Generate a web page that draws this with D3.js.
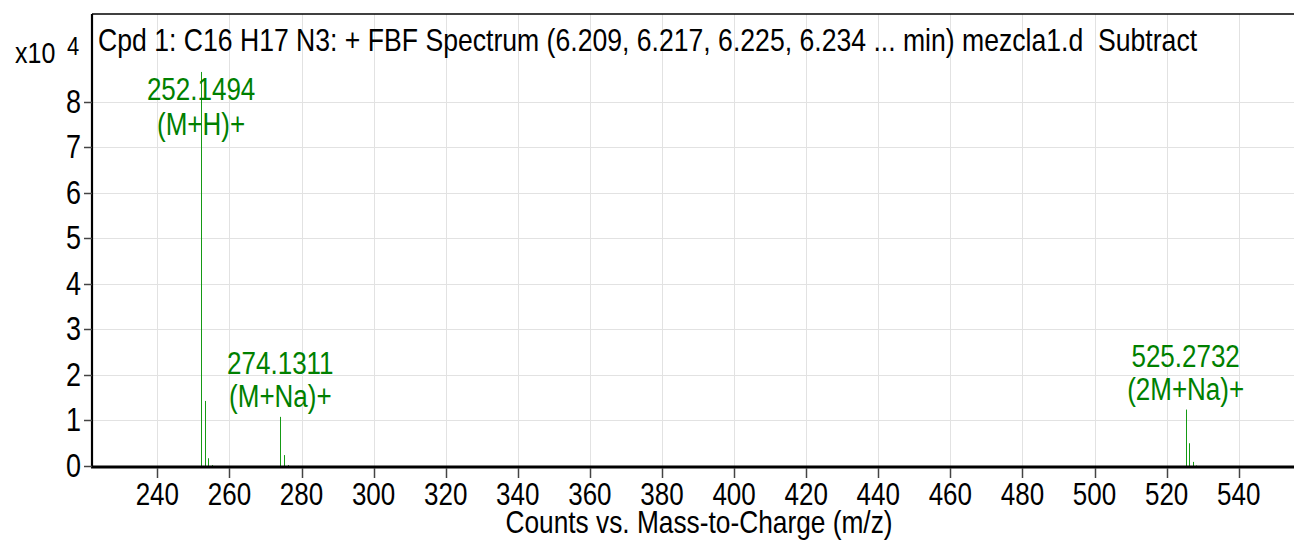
<!DOCTYPE html>
<html>
<head>
<meta charset="utf-8">
<script src="https://cdn.jsdelivr.net/npm/d3@7"></script>
<style>
  body { margin: 0; background: #fff; }
  text { font-family: "Liberation Sans", Arial, sans-serif; }
</style>
</head>
<body>
<svg id="chart" width="1294" height="540"></svg>
<script>
// spectrum data (m/z, counts)
var mzValues = [252.1494, 253.1525, 254.1556, 255.1580, 274.1311, 275.1342, 276.1370, 525.2732, 526.2762, 527.2791, 528.2820];
var countValues = [86600, 14300, 1700, 200, 10800, 2400, 200, 12400, 5000, 900, 100];

// annotated peaks
var peakMz = [252.1494, 274.1311, 525.2732];
var peakCounts = [86600, 10800, 12400];
var peakNames = ["(M+H)+", "(M+Na)+", "(2M+Na)+"];

var xTicks = [240, 260, 280, 300, 320, 340, 360, 380, 400, 420, 440, 460, 480, 500, 520, 540];
var yTicks = [0, 1, 2, 3, 4, 5, 6, 7, 8];

var titleText = "Cpd 1: C16 H17 N3: + FBF Spectrum (6.209, 6.217, 6.225, 6.234 ... min) mezcla1.d  Subtract";
var xTitle = "Counts vs. Mass-to-Charge (m/z)";

var svg = d3.select("#chart");
var plotL = 92, plotR = 1294, plotT = 14, plotB = 466;
var sy = 1.2; // text in the original is stretched vertically

var x = d3.scaleLinear().domain([221.88, 555.34]).range([plotL, plotR]);
var y = d3.scaleLinear().domain([0, 9.934]).range([plotB, plotT]);

function stretchedText(g, tx, ty, str, size, anchor, color) {
    return g.append("text")
        .attr("transform", "translate(" + tx + "," + ty + ") scale(1," + sy + ")")
        .attr("text-anchor", anchor)
        .attr("font-size", size)
        .attr("fill", color || "#000")
        .style("white-space", "pre")
        .text(str);
}

// grid
var grid = svg.append("g");
grid.selectAll("line.vg").data(xTicks).enter().append("line")
    .attr("x1", function(d) { return Math.round(x(d)) + 0.5; })
    .attr("x2", function(d) { return Math.round(x(d)) + 0.5; })
    .attr("y1", plotT).attr("y2", plotB)
    .attr("stroke", "#e2e2e2").attr("stroke-width", 1);
grid.selectAll("line.hg").data(yTicks.slice(1)).enter().append("line")
    .attr("x1", plotL).attr("x2", plotR)
    .attr("y1", function(d) { return Math.round(y(d)) + 0.5; })
    .attr("y2", function(d) { return Math.round(y(d)) + 0.5; })
    .attr("stroke", "#e2e2e2").attr("stroke-width", 1);

// sticks
svg.append("g").selectAll("line").data(mzValues).enter().append("line")
    .attr("x1", function(d) { return Math.round(x(d)) + 0.5; })
    .attr("x2", function(d) { return Math.round(x(d)) + 0.5; })
    .attr("y1", plotB)
    .attr("y2", function(d, i) { return y(countValues[i] / 1e4); })
    .attr("stroke", "#159a15").attr("stroke-width", 1);

// frame
svg.append("line").attr("x1", plotL).attr("x2", plotR).attr("y1", plotT).attr("y2", plotT)
    .attr("stroke", "#000").attr("stroke-width", 1.6);
svg.append("line").attr("x1", plotL).attr("x2", plotL).attr("y1", plotT).attr("y2", plotB + 1)
    .attr("stroke", "#000").attr("stroke-width", 2.2);
svg.append("line").attr("x1", plotL - 1).attr("x2", plotR).attr("y1", plotB + 1).attr("y2", plotB + 1)
    .attr("stroke", "#000").attr("stroke-width", 3);

// x axis ticks and labels
var xa = svg.append("g");
xa.selectAll("line").data(xTicks).enter().append("line")
    .attr("x1", function(d) { return Math.round(x(d)) + 0.5; })
    .attr("x2", function(d) { return Math.round(x(d)) + 0.5; })
    .attr("y1", plotB + 2).attr("y2", plotB + 12)
    .attr("stroke", "#444").attr("stroke-width", 1.5);
xTicks.forEach(function(d) {
    stretchedText(xa, x(d), 505, d, 26, "middle");
});
stretchedText(svg, 699, 533, xTitle, 26.3, "middle");

// y axis ticks and labels
var ya = svg.append("g");
ya.selectAll("line").data(yTicks).enter().append("line")
    .attr("x1", plotL - 8).attr("x2", plotL)
    .attr("y1", function(d) { return Math.round(y(d)) + 0.5; })
    .attr("y2", function(d) { return Math.round(y(d)) + 0.5; })
    .attr("stroke", "#444").attr("stroke-width", 1.5);
yTicks.forEach(function(d) {
    stretchedText(ya, 81, y(d) + 11, d, 27, "end");
});
stretchedText(svg, 15, 63, "x10", 25, "start");
stretchedText(svg, 67, 55, "4", 22, "start");

// title
stretchedText(svg, 98, 51, titleText, 26.6, "start");

// peak labels
peakMz.forEach(function(m, i) {
    var base = y(peakCounts[i] / 1e4) - 10;
    var line1 = base - 33;
    if (line1 < 100) { line1 = 100; base = 135; }
    stretchedText(svg, x(m), line1, m.toFixed(4), 26, "middle", "#008000");
    stretchedText(svg, x(m), base, peakNames[i], 26, "middle", "#008000");
});
</script>
</body>
</html>
